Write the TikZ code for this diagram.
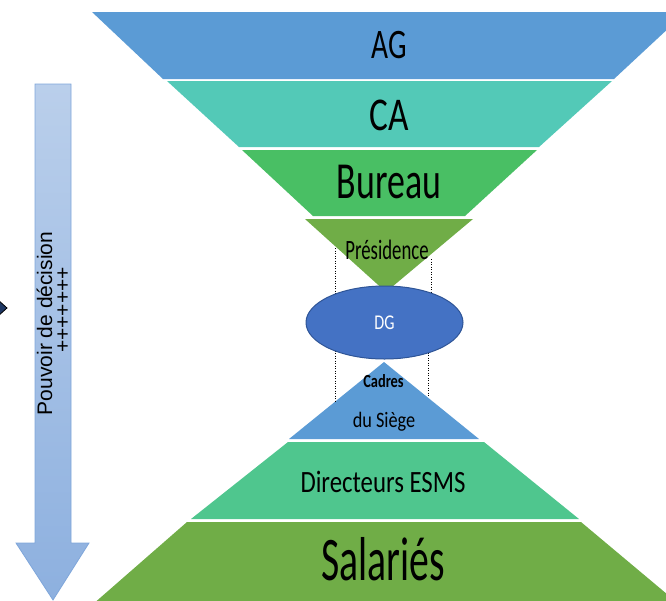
\documentclass[tikz,border=0pt]{standalone}
\usepackage{fontspec}
\usepackage{graphicx}
\setmainfont{Carlito}
\newfontfamily\arialfont{Liberation Sans}
\usetikzlibrary{shapes.geometric}
\definecolor{agblue}{HTML}{5B9BD5}
\definecolor{cateal}{HTML}{53C9B7}
\definecolor{bureaugreen}{HTML}{49BF64}
\definecolor{presgreen}{HTML}{70AD47}
\definecolor{dgblue}{HTML}{4472C4}
\definecolor{dgborder}{HTML}{2F5597}
\definecolor{dirgreen}{HTML}{4FC68E}
\definecolor{arrowtop}{HTML}{BACFEB}
\definecolor{arrowbot}{HTML}{8DB0DF}
\definecolor{arrowline}{HTML}{7FA6DA}
\definecolor{navytip}{HTML}{1F3864}
\newcommand{\lbl}[3]{\fontsize{#1}{#1}\selectfont\scalebox{#2}[1]{#3}}

\begin{document}
\begin{tikzpicture}[x=1pt,y=-1pt]
            \tikzstyle{level} = [anchor=base, inner sep=0pt, text=black]
            \useasboundingbox (0,0) rectangle (666,600);
            \clip (0,0) rectangle (666,600);

            % 上部漏斗
            \fill[agblue] (92,12) -- (686,12) -- (614,79) -- (163,79) -- cycle;
            \fill[cateal] (167,81) -- (612,81) -- (539,147) -- (239,147) -- cycle;
            \fill[bureaugreen] (242,150) -- (537,150) -- (465,216) -- (313,216) -- cycle;
            \fill[presgreen] (305,219) -- (473,219) -- (386,292) -- cycle;

            % 下部金字塔
            \fill[agblue] (384,362) -- (479,439) -- (289,439) -- cycle;
            \fill[dirgreen] (288,442) -- (484,442) -- (579,519) -- (191,519) -- cycle;
            \fill[presgreen] (187,522) -- (581,522) -- (680,605) -- (92,605) -- cycle;

            % 虚线
            \draw[dash pattern=on 1pt off 1.5pt, line width=0.8pt] (335.5,248) -- (335.5,402);
            \draw[dash pattern=on 1pt off 1.5pt, line width=0.8pt] (431,259) -- (431,300);
            \draw[dash pattern=on 1pt off 1.5pt, line width=0.8pt] (428,345) -- (428,397);

            % 椭圆
            \node[ellipse, draw=dgborder, fill=dgblue, line width=1pt, inner sep=0pt,
                  minimum width=157pt, minimum height=73pt, text=white]
                  (dg) at (384.5,322.5) {\lbl{21}{0.77}{DG}};

            % 文字
            \node[level] (ag) at (389,58) {\lbl{42}{0.7}{AG}};
            \node[level] (ca) at (389,130) {\lbl{47}{0.75}{CA}};
            \node[level] (bureau) at (389,198) {\lbl{52}{0.69}{Bureau}};
            \node[level] (presidence) at (387,259) {\lbl{28}{0.67}{Présidence}};
            \node[level] (cadres) at (383.5,387) {\lbl{18.5}{0.78}{\bfseries Cadres}};
            \node[level] (siege) at (384,427) {\lbl{22}{0.83}{du Siège}};
            \node[level] (directeurs) at (383,492) {\lbl{31}{0.8}{Directeurs ESMS}};
            \node[level] (salaries) at (383,580) {\lbl{62}{0.64}{Salariés}};

            % 左侧箭头
            \shadedraw[top color=arrowtop, bottom color=arrowbot, draw=arrowline, line width=0.8pt]
                (35,84) -- (71,84) -- (71,543) -- (89,543) -- (53,600) -- (16,543) -- (35,543) -- cycle;
            \node[rotate=90, inner sep=0pt, font=\arialfont\fontsize{21}{21}\selectfont] (pouvoir) at (44.5,323.5) {Pouvoir de décision};
            \node[rotate=90, inner sep=0pt, font=\arialfont\fontsize{21}{21}\selectfont] (plus) at (63.5,310) {+++++++};
            \filldraw[fill=navytip, draw=black, line width=0.8pt] (-3,299) -- (7,308) -- (-3,317) -- cycle;
\end{tikzpicture}
\end{document}
